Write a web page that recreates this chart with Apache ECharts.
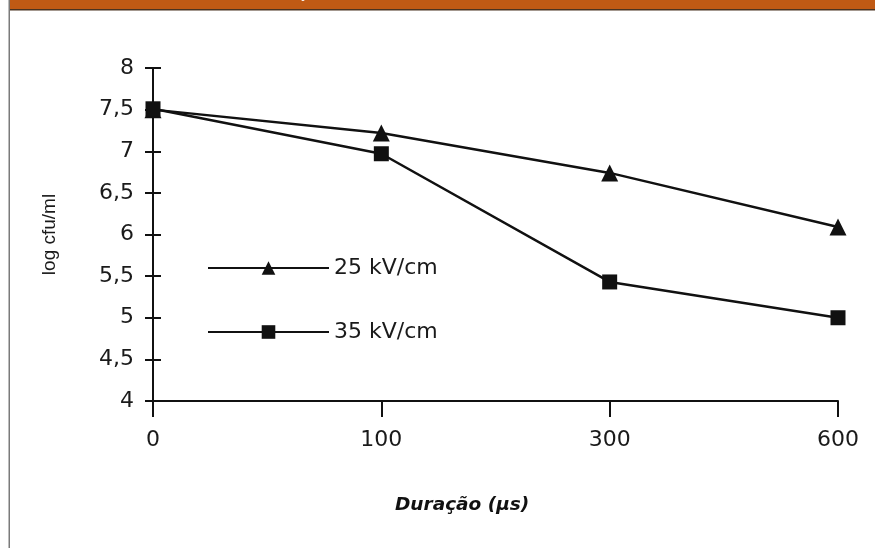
<!DOCTYPE html>
<html>
<head>
<meta charset="utf-8">
<script src="https://cdn.jsdelivr.net/npm/echarts@6/dist/echarts.min.js"></script>
<style>
html,body{margin:0;padding:0;background:#fff;}
#c{width:875px;height:548px;}
</style>
</head>
<body>
<div id="c"></div>
<script>
var categories = ['0', '100', '300', '600'];
var series25 = [7.5, 7.22, 6.74, 6.09];
var series35 = [7.51, 6.97, 5.43, 5.0];
var seriesNames = ['25 kV/cm', '35 kV/cm'];
var yLabelFormat = function (v) { return String(v).replace('.', ','); };

var chart = echarts.init(document.getElementById('c'), null, {renderer: 'canvas'});
var tickFont = {fontFamily: 'DejaVu Sans', fontSize: 22, color: '#1a1a1a'};
var option = {
  animation: false,
  backgroundColor: '#fff',
  grid: {left: 153, right: 37, top: 68, bottom: 147, containLabel: false},
  legend: {
    left: 202, top: 250, orient: 'vertical', itemWidth: 121, itemHeight: 17, itemGap: 38,
    data: [seriesNames[0], seriesNames[1]],
    lineStyle: {width: 2},
    textStyle: {fontFamily: 'DejaVu Sans', fontSize: 22, lineHeight: 26, color: '#1a1a1a', padding: [0, 0, 0, 0]}
  },
  xAxis: {
    type: 'category', data: categories, boundaryGap: false,
    axisLine: {lineStyle: {color: '#111', width: 2}},
    axisTick: {show: true, length: 16, lineStyle: {color: '#111', width: 2}},
    axisLabel: Object.assign({margin: 28}, tickFont),
    splitLine: {show: false}
  },
  yAxis: [{
    type: 'value', min: 4, max: 8, interval: 0.5,
    name: 'log cfu/ml', nameLocation: 'middle', nameGap: 94, nameRotate: 90,
    nameTextStyle: {fontFamily: 'Liberation Sans', fontSize: 19, color: '#1a1a1a'},
    axisLine: {show: true, lineStyle: {color: '#111', width: 2}},
    axisTick: {show: true, length: 8, lineStyle: {color: '#111', width: 2}},
    axisLabel: Object.assign({margin: 19, formatter: yLabelFormat}, tickFont),
    splitLine: {show: false}
  }, {
    type: 'value', min: 4, max: 8, interval: 0.5, position: 'left', offset: 0,
    axisLine: {show: true, lineStyle: {color: '#111', width: 2}},
    axisTick: {show: true, inside: true, length: 8, lineStyle: {color: '#111', width: 2}},
    axisLabel: {show: false},
    splitLine: {show: false}
  }],
  series: [{
    name: seriesNames[0], type: 'line', data: series25,
    symbol: 'triangle', symbolSize: 17,
    lineStyle: {color: '#111', width: 2.5},
    itemStyle: {color: '#111'}
  }, {
    name: seriesNames[1], type: 'line', data: series35,
    symbol: 'rect', symbolSize: 15,
    lineStyle: {color: '#111', width: 2.5},
    itemStyle: {color: '#111'}
  }],
  graphic: [
    {type: 'rect', shape: {x: 10, y: 0, width: 865, height: 9}, style: {fill: '#C05A14'}, silent: true},
    {type: 'rect', shape: {x: 10, y: 9, width: 865, height: 1.5}, style: {fill: '#4a3320'}, silent: true},
    {type: 'rect', shape: {x: 8.5, y: 0, width: 1.5, height: 548}, style: {fill: '#7a7a7a'}, silent: true},
    {type: 'text', left: 303, top: -12, style: {text: 'y', fill: '#fff', font: 'italic 13px Open Sans'}, silent: true},
    {type: 'text', left: 395, top: 496, style: {text: 'Duração (µs)', fill: '#111', font: 'italic bold 18.5px DejaVu Sans'}, silent: true}
  ]
};
chart.setOption(option);
</script>
</body>
</html>
